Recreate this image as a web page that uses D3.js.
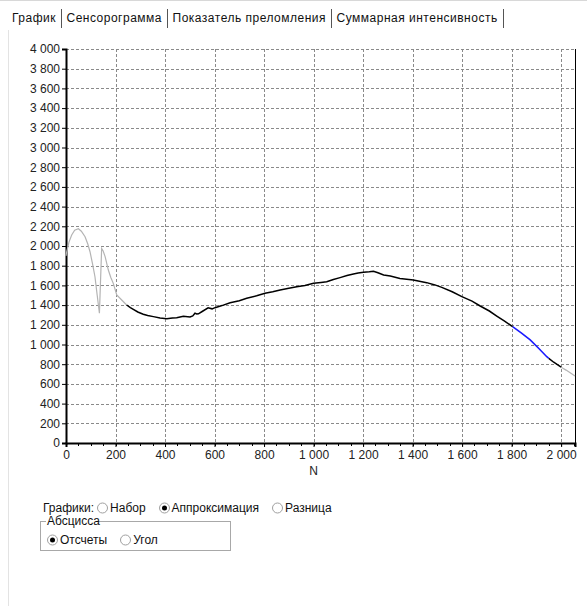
<!DOCTYPE html>
<html>
<head>
<meta charset="utf-8">
<script src="https://cdn.jsdelivr.net/npm/d3@7"></script>
<style>
  html, body { margin: 0; padding: 0; background: #fff; }
  svg { display: block; }
</style>
</head>
<body>
<svg id="chart" width="587" height="606"></svg>
<script>
// ---------- data ----------
const tabLabels = ["График", "Сенсорограмма", "Показатель преломления", "Суммарная интенсивность"];
const yTicks = [0, 200, 400, 600, 800, 1000, 1200, 1400, 1600, 1800, 2000, 2200, 2400, 2600, 2800, 3000, 3200, 3400, 3600, 3800, 4000];
const xTicks = [0, 200, 400, 600, 800, 1000, 1200, 1400, 1600, 1800, 2000];
const xTitle = "N";
const curveN = [0, 3, 12, 23, 35, 50, 62, 77, 88, 97, 107, 117, 126, 135, 144, 150, 158, 171, 181, 191, 205, 225, 245, 260, 272, 290, 312, 330, 353, 380, 407, 430, 447, 474, 501, 512, 521, 528, 535, 550, 574, 590, 602, 630, 663, 700, 730, 770, 804, 835, 865, 900, 932, 965, 1000, 1030, 1053, 1080, 1107, 1135, 1161, 1180, 1202, 1225, 1242, 1260, 1283, 1310, 1349, 1403, 1457, 1490, 1518, 1560, 1599, 1640, 1673, 1710, 1740, 1770, 1804, 1840, 1875, 1910, 1942, 1950, 1970, 2000, 2020, 2050, 2056];
const curveV = [1900, 1942, 2040, 2112, 2160, 2175, 2150, 2094, 2020, 1942, 1820, 1688, 1500, 1317, 1975, 1950, 1892, 1756, 1680, 1621, 1503, 1452, 1401, 1375, 1357, 1330, 1307, 1295, 1283, 1270, 1262, 1268, 1272, 1286, 1279, 1290, 1318, 1310, 1312, 1335, 1372, 1362, 1374, 1395, 1424, 1445, 1469, 1495, 1520, 1535, 1553, 1570, 1587, 1600, 1621, 1630, 1638, 1660, 1679, 1700, 1716, 1725, 1733, 1738, 1743, 1728, 1706, 1695, 1670, 1655, 1628, 1605, 1580, 1535, 1486, 1440, 1391, 1340, 1289, 1240, 1181, 1115, 1046, 960, 876, 860, 820, 770, 740, 690, 680];
// segments: [startN, endN, kind]
const segments = [
  [0, 245, "raw"],
  [245, 1804, "data"],
  [1804, 1950, "fit"],
  [1950, 2000, "data"],
  [2000, 2056, "raw"]
];
const plotLabel = "Графики:";
const plotOptions = ["Набор", "Аппроксимация", "Разница"];
const plotSelected = 1;
const abscissaTitle = "Абсцисса";
const abscissaOptions = ["Отсчеты", "Угол"];
const abscissaSelected = 0;

// ---------- drawing ----------
const svg = d3.select("#chart");
const uiFont = "Liberation Sans, Arial, sans-serif";
const axFont = "Liberation Sans, Arial, sans-serif";
const uiSize = 12;

// window frame
svg.append("line").attr("x1", 0).attr("x2", 587).attr("y1", 0.5).attr("y2", 0.5).attr("stroke", "#d8d8d8");
svg.append("line").attr("x1", 8.5).attr("x2", 8.5).attr("y1", 30).attr("y2", 606).attr("stroke", "#e3e3e3");

// tabs (laid out by measured text width)
let tx = 12;
tabLabels.forEach((t) => {
  const el = svg.append("text").attr("x", tx).attr("y", 22).attr("font-family", uiFont).attr("font-size", uiSize)
    .attr("letter-spacing", 0.5).attr("fill", "#111").text(t);
  const w = el.node().getComputedTextLength();
  const sx = Math.round(tx + w + 5) + 0.5;
  svg.append("line").attr("x1", sx).attr("x2", sx).attr("y1", 9).attr("y2", 28).attr("stroke", "#555");
  tx = sx + 5;
});

const x = d3.scaleLinear().domain([0, 2056]).range([66, 575]);
const y = d3.scaleLinear().domain([0, 4000]).range([443, 49]);

// grid
const g = svg.append("g");
g.selectAll(".hg").data(yTicks.filter(d => d > 0)).join("line")
  .attr("x1", x(0)).attr("x2", x(2056)).attr("y1", d => Math.round(y(d)) + 0.5).attr("y2", d => Math.round(y(d)) + 0.5)
  .attr("stroke", "#8a8a8a").attr("stroke-dasharray", "3,2");
g.selectAll(".vg").data(xTicks.filter(d => d > 0)).join("line")
  .attr("x1", d => Math.round(x(d)) + 0.5).attr("x2", d => Math.round(x(d)) + 0.5).attr("y1", y(4000)).attr("y2", y(0))
  .attr("stroke", "#8a8a8a").attr("stroke-dasharray", "3,2");

// right border
svg.append("line").attr("x1", Math.round(x(2056)) + 0.5).attr("x2", Math.round(x(2056)) + 0.5)
  .attr("y1", y(4000)).attr("y2", y(0)).attr("stroke", "#000");

// y axis
const fmt = d => d3.format(",")(d).replace(/,/g, " ");
const yAxis = d3.axisLeft(y).tickValues(yTicks).tickSize(4).tickPadding(2).tickFormat(fmt);
const ya = svg.append("g").attr("transform", `translate(${x(0)},0)`).call(yAxis);
ya.select(".domain").attr("stroke", "#000").attr("stroke-width", 2);
ya.selectAll("text").attr("font-family", axFont).attr("font-size", 12).attr("fill", "#222");

// x axis with minor ticks
const minor = d3.range(0, 2056, 50);
svg.append("g").selectAll("line").data(minor).join("line")
  .attr("x1", d => Math.round(x(d)) + 0.5).attr("x2", d => Math.round(x(d)) + 0.5)
  .attr("y1", y(0)).attr("y2", y(0) + 3).attr("stroke", "#000");
const xAxis = d3.axisBottom(x).tickValues(xTicks).tickSize(4).tickPadding(3).tickFormat(fmt);
const xa = svg.append("g").attr("transform", `translate(0,${y(0)})`).call(xAxis);
xa.select(".domain").attr("stroke", "#000").attr("stroke-width", 2);
xa.selectAll("text").attr("font-family", axFont).attr("font-size", 12).attr("fill", "#222");
svg.append("text").attr("x", (x(0) + x(2000)) / 2).attr("y", 475).attr("text-anchor", "middle")
  .attr("font-family", axFont).attr("font-size", 12).attr("fill", "#222").text(xTitle);

// curve
const pts = curveN.map((n, i) => ({ n, v: curveV[i] }));
const line = d3.line().x(d => x(d.n)).y(d => y(d.v));
const styles = { raw: ["#b4b4b4", 1.2], data: ["#000", 1.5], fit: ["#1a1aff", 1.6] };
segments.forEach(([a, b, k]) => {
  svg.append("path").datum(pts.filter(d => d.n >= a && d.n <= b))
    .attr("fill", "none").attr("stroke", styles[k][0]).attr("stroke-width", styles[k][1])
    .attr("d", line);
});

// radio helper
function radio(cx, cy, on) {
  svg.append("circle").attr("cx", cx).attr("cy", cy).attr("r", 5).attr("fill", "#fff")
    .attr("stroke", "#a0a0a0");
  if (on) svg.append("circle").attr("cx", cx).attr("cy", cy).attr("r", 2.5).attr("fill", "#000");
}
function uiText(xp, yp, t) {
  const el = svg.append("text").attr("x", xp).attr("y", yp).attr("font-family", uiFont)
    .attr("font-size", uiSize).attr("fill", "#111").text(t);
  return xp + el.node().getComputedTextLength();
}

// controls
let cx = uiText(43, 512, plotLabel);
cx += 8;
plotOptions.forEach((t, i) => {
  radio(Math.round(cx) + 0.5, 508, i === plotSelected);
  cx = uiText(cx + 8, 512, t) + 18;
});

svg.append("rect").attr("x", 40.5).attr("y", 521.5).attr("width", 190).attr("height", 29)
  .attr("fill", "none").attr("stroke", "#a8a8a8");
svg.append("rect").attr("x", 46).attr("y", 515).attr("width", 50).attr("height", 12).attr("fill", "#fff");
uiText(47, 525, abscissaTitle);
let ax = 52;
abscissaOptions.forEach((t, i) => {
  radio(Math.round(ax) + 0.5, 540, i === abscissaSelected);
  ax = uiText(ax + 8, 544, t) + 18;
});
</script>
</body>
</html>
